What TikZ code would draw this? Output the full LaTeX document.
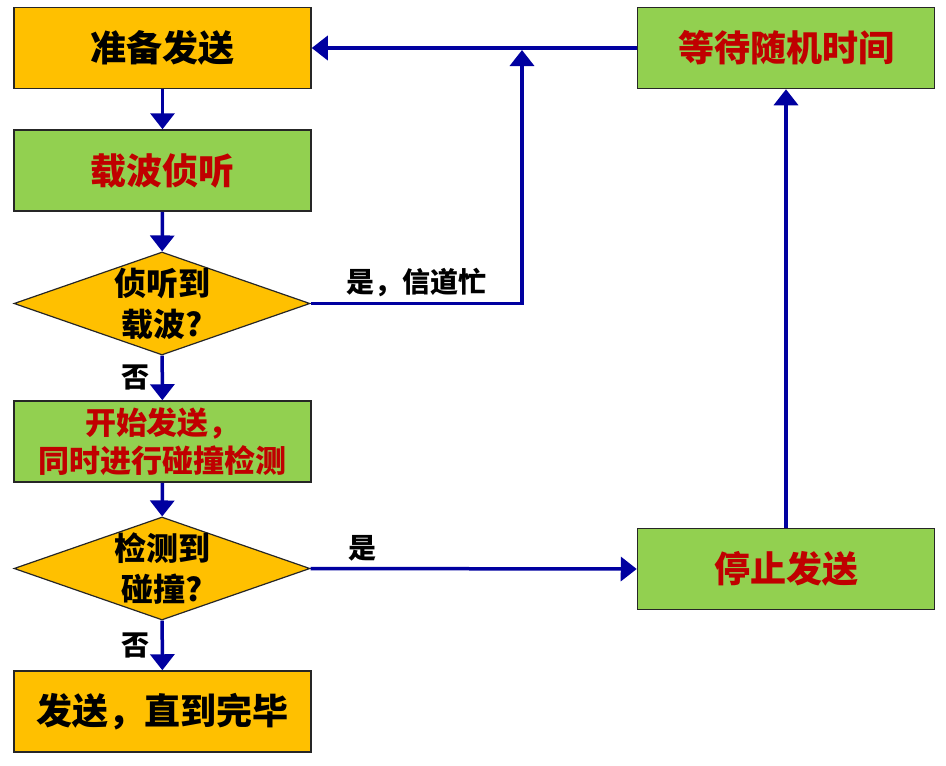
\documentclass[tikz,border=0pt]{standalone}
\usepackage{xcolor}
\usepackage{tikz}
\usepackage{fontspec}
\usetikzlibrary{shapes.geometric,arrows.meta}
\setmainfont{Noto Sans CJK SC}
\definecolor{sendorange}{RGB}{255,192,0}
\definecolor{sendgreen}{RGB}{146,208,80}
\definecolor{sendred}{RGB}{192,0,0}
\definecolor{flowblue}{RGB}{0,0,160}

\begin{document}
\begin{tikzpicture}[x=1pt, y=-1pt,
    orangebox/.style={draw=black!85, line width=1.5pt, rectangle, fill=sendorange, minimum width=297pt, minimum height=81pt, inner sep=0pt, font=\fontsize{36}{40}\selectfont\bfseries},
    greenbox/.style={draw=black!85, line width=1.5pt, rectangle, fill=sendgreen, minimum width=297pt, minimum height=81pt, inner sep=0pt, text=sendred, font=\fontsize{36}{40}\selectfont\bfseries},
    decision/.style={draw=black!85, line width=1.2pt, diamond, aspect=2.88, fill=sendorange, minimum width=296pt, minimum height=103pt, inner sep=-2pt, align=center, font=\fontsize{32}{41}\selectfont\bfseries},
    flow/.style={-{Triangle[width=24pt,length=16pt]}, draw=flowblue, line width=3.5pt},
    edgetext/.style={font=\fontsize{28}{30}\selectfont\bfseries, text=black}]
    \useasboundingbox (0,0) rectangle (946,766);

    \node (prep) at (162.5,48) [orangebox] {准备发送};
    \node (listen) at (162.5,170.5) [greenbox] {载波侦听};
    \node (busy) at (162,303.5) [decision] {侦听到\\载波?};
    \node (start) at (162.5,441.5) [greenbox, align=center, font=\fontsize{31}{38}\selectfont\bfseries] {开始发送，\\同时进行碰撞检测};
    \node (hit) at (162,568.5) [decision] {检测到\\碰撞?};
    \node (done) at (162.5,711.5) [orangebox] {发送，直到完毕};

    \node (wait) at (786,48) [greenbox] {等待随机时间};
    \node (stop) at (786,569) [greenbox] {停止发送};
    \coordinate (join) at (522,50);

    \draw[flow] (prep) -- (listen);
    \draw[flow] (listen) -- (busy);
    \draw[flow] (busy) -- node[edgetext, left, xshift=-8pt] {否} (start);
    \draw[flow] (start) -- (hit);
    \draw[flow] (hit) -- node[edgetext, left, xshift=-8pt] {否} (done);
    \draw[flow] (busy.east) -| node[edgetext, pos=0.25, above, yshift=2pt] {是，信道忙} (join);
    \draw[flow] (wait.west) -- (prep.east);
    \draw[flow] (hit.east) -- node[edgetext, pos=0.16, above, yshift=2pt] {是} (stop.west);
    \draw[flow] (stop) -- (wait);
\end{tikzpicture}
\end{document}
